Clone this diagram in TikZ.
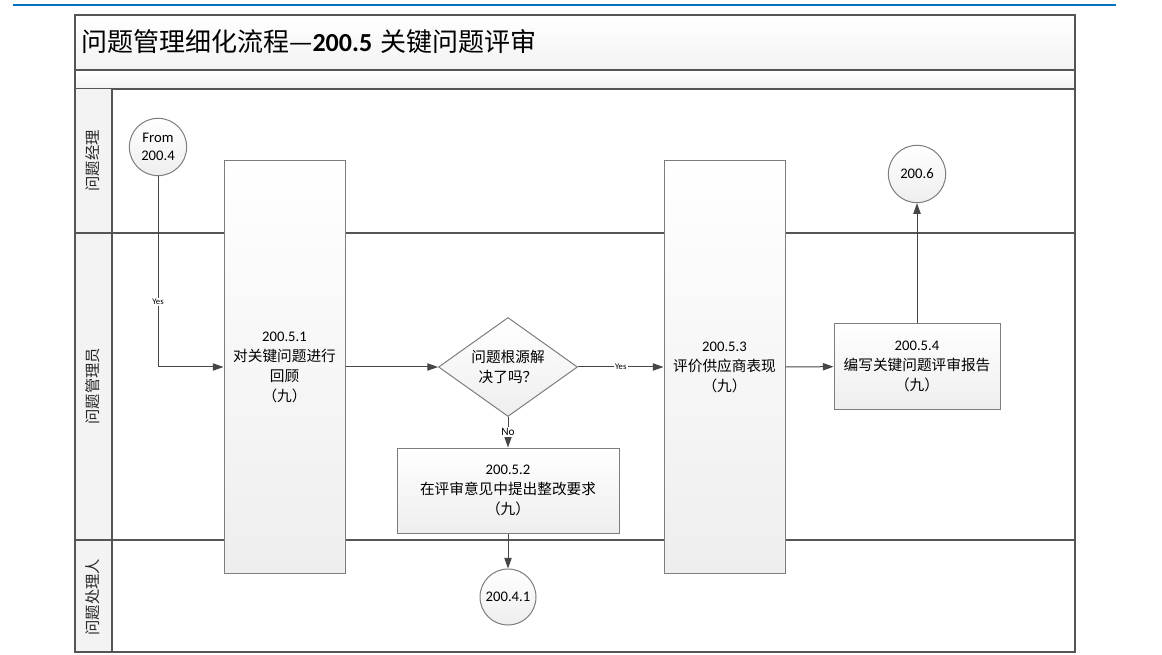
\documentclass[tikz,border=0pt]{standalone}
\usepackage{fontspec}
\setmainfont{Carlito}
\newfontfamily\cj{Noto Sans CJK SC}
\usetikzlibrary{shapes.geometric,arrows.meta}
\definecolor{blueline}{RGB}{0,112,192}
\definecolor{frameline}{RGB}{85,85,85}
\definecolor{shapeline}{RGB}{125,125,125}
\definecolor{conn}{RGB}{70,70,70}
\definecolor{fillbot}{RGB}{238,238,238}
\definecolor{lanefill}{RGB}{243,243,243}
\begin{document}
\begin{tikzpicture}[x=0.75pt,y=-0.75pt,
  boxstyle/.style={draw=shapeline, line width=0.75pt, top color=white, bottom color=fillbot,
    align=center, inner sep=0pt, font=\fontsize{11}{15}\selectfont},
  circstyle/.style={circle, draw=shapeline, line width=0.75pt, top color=white, bottom color=fillbot,
    minimum size=43pt, inner sep=0pt, align=center, font=\fontsize{11}{14}\selectfont},
  arr/.style={draw=conn, line width=0.75pt, -{Triangle[length=8pt,width=5.5pt]}},
  yeslbl/.style={font=\fontsize{6.5}{7}\selectfont, fill=white, inner sep=1pt},
  nolbl/.style={font=\fontsize{8.5}{9}\selectfont, fill=white, inner sep=1pt},
  lanelbl/.style={rotate=90, font=\cj\fontsize{11.5}{14}\selectfont, text=black!85}
]
\useasboundingbox (0,0) rectangle (1162,655);
% top blue rule
\draw[blueline, line width=1pt] (13,5) -- (1116,5);
% title bands
\draw[frameline, line width=0.9pt, top color=white, bottom color=lanefill] (75,15) rectangle (1075,70);
\draw[frameline, line width=0.9pt, top color=white, bottom color=lanefill] (75,70) rectangle (1075,89);
\fill[lanefill] (75,89) rectangle (112,652);
% lane lines
\draw[frameline, line width=0.9pt] (75,233) -- (1075,233);
\draw[frameline, line width=0.9pt] (75,540) -- (1075,540);
\draw[frameline, line width=0.9pt] (112,89) -- (112,652);
\draw[frameline, line width=1pt] (75,15) rectangle (1075,652);
% title
\node[anchor=west, inner sep=0pt, font=\fontsize{19.5}{22}\selectfont] (title) at (81,42)
  {{\cj 问题管理细化流程—}\textbf{200.5}\hspace{6pt}{\cj 关键问题评审}};
% lane labels
\node[lanelbl] (l1) at (93,161) {问题经理};
\node[lanelbl] (l2) at (93,386) {问题管理员};
\node[lanelbl] (l3) at (93,597) {问题处理人};
% nodes
\node[circstyle] (from) at (158,147) {From\\200.4};
\node[boxstyle, minimum width=90.75pt, minimum height=309pt] (r1) at (284.5,367)
  {200.5.1\\{\cj 对关键问题进行}\\{\cj 回顾}\\{\cj （九）}};
\node[diamond, draw=shapeline, line width=0.75pt, top color=white, bottom color=fillbot,
  minimum width=104.25pt, minimum height=74.25pt, inner sep=0pt] (dec) at (508,367) {};
\node[align=center, font=\cj\fontsize{11}{15}\selectfont] (dect) at (dec) {问题根源解\\决了吗\char"FF1F};
\node[boxstyle, minimum width=166.5pt, minimum height=63.75pt] (r2) at (508,490.5)
  {200.5.2\\{\cj 在评审意见中提出整改要求}\\{\cj （九）}};
\node[circstyle, minimum size=42pt] (c3) at (508,597) {200.4.1};
\node[boxstyle, minimum width=90.75pt, minimum height=309pt] (r3) at (724.5,367)
  {200.5.3\\{\cj 评价供应商表现}\\{\cj （九）}};
\node[boxstyle, minimum width=124.5pt, minimum height=63.75pt] (r4) at (917,366.5)
  {200.5.4\\{\cj 编写关键问题评审报告}\\{\cj （九）}};
\node[circstyle] (c4) at (917,174) {200.6};
% connectors
\draw[arr] (from) |- node[pos=0.33, yeslbl] {Yes} (r1);
\draw[arr] (r1) -- (dec);
\draw[arr] (dec) -- node[yeslbl] {Yes} (r3);
\draw[arr] (dec) -- node[nolbl] {No} (r2);
\draw[arr] (r2) -- (c3);
\draw[arr] (r3) -- (r4);
\draw[arr] (r4) -- (c4);
\end{tikzpicture}
\end{document}
